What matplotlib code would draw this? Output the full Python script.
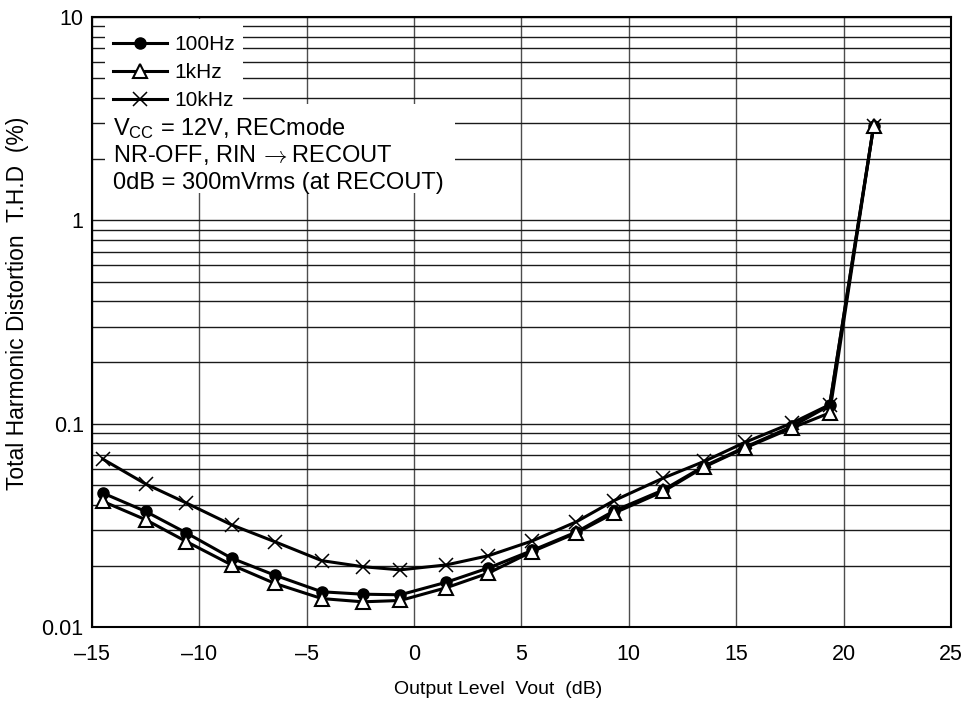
import numpy as np
import matplotlib
matplotlib.use("Agg")
import matplotlib.pyplot as plt
from matplotlib.patches import Rectangle
from matplotlib.ticker import FixedLocator, NullFormatter, LogLocator

plt.rcParams['font.family'] = ['Liberation Sans', 'DejaVu Sans']
plt.rcParams['mathtext.fontset'] = 'custom'
plt.rcParams['mathtext.rm'] = 'Liberation Sans'
plt.rcParams['mathtext.it'] = 'Liberation Sans'

# Output level (dB) of the measurement points
vout = [-14.5, -12.5, -10.6, -8.5, -6.5, -4.3, -2.4, -0.65, 1.5,
        3.45, 5.5, 7.55, 9.3, 11.6, 13.5, 15.4, 17.6, 19.35, 21.4]

# THD (%) per frequency
thd_100hz = [0.0456, 0.037, 0.029, 0.0218, 0.018, 0.0149, 0.0145, 0.0144, 0.0166,
             0.0195, 0.0238, 0.0293, 0.0372, 0.0472, 0.0618, 0.0765, 0.097, 0.123, 2.92]
thd_1khz = [0.0415, 0.0337, 0.0263, 0.0202, 0.0164, 0.0138, 0.0133, 0.0135, 0.0156,
            0.0184, 0.0235, 0.029, 0.0363, 0.0464, 0.0612, 0.0759, 0.0953, 0.113, 2.92]
thd_10khz = [0.067, 0.0505, 0.0407, 0.0318, 0.0263, 0.0212, 0.0198, 0.0191, 0.0202,
             0.0224, 0.0265, 0.0329, 0.0418, 0.054, 0.0652, 0.0809, 0.1008, 0.124, 2.92]

x_ticks = [-15, -10, -5, 0, 5, 10, 15, 20, 25]
x_ticklabels = ["\u201315", "\u201310", "\u20135", "0", "5", "10", "15", "20", "25"]
y_ticks = [0.01, 0.1, 1, 10]
y_ticklabels = ["0.01", "0.1", "1", "10"]

notes = ["V$_{\\rm CC}$ = 12V, RECmode",
         "NR-OFF, RIN$\\,\\rightarrow$RECOUT",
         "0dB = 300mVrms (at RECOUT)"]

fig = plt.figure(figsize=(9.7, 7.02), dpi=100)
ax = fig.add_axes([92 / 970, 75 / 702, 859 / 970, 610 / 702])

ax.set_yscale('log')
ax.set_xlim(-15, 25)
ax.set_ylim(0.01, 10)

# grid: every 5 dB, every 1-9 step per decade
ax.set_axisbelow(True)
ax.xaxis.set_major_locator(FixedLocator(x_ticks))
ax.yaxis.set_major_locator(FixedLocator(y_ticks))
ax.yaxis.set_minor_locator(LogLocator(base=10, subs=np.arange(2, 10)))
ax.yaxis.set_minor_formatter(NullFormatter())
ax.grid(True, which='major', axis='x', color='0.3', lw=1.0)
ax.grid(True, which='both', axis='y', color='0.1', lw=1.0)

ax.set_xticklabels(x_ticklabels)
ax.set_yticklabels(y_ticklabels)
ax.tick_params(axis='both', which='both', length=0, labelsize=15.5)
ax.tick_params(axis='x', pad=12)
ax.tick_params(axis='y', pad=6)
for s in ax.spines.values():
    s.set_linewidth(1.5)
    s.set_color('black')

# white areas behind legend and notes
ax.add_patch(Rectangle((0.015, 0.856), 0.161, 0.14, transform=ax.transAxes,
                       facecolor='white', edgecolor='none', zorder=1))
ax.add_patch(Rectangle((0.015, 0.711), 0.408, 0.146, transform=ax.transAxes,
                       facecolor='white', edgecolor='none', zorder=1))

ax.plot(vout, thd_10khz, color='black', lw=2.2, marker='x', ms=10, mew=1.1,
        label='10kHz', zorder=3)
ax.plot(vout, thd_100hz, color='black', lw=2.2, marker='o', ms=8,
        label='100Hz', zorder=4)
ax.plot(vout, thd_1khz, color='black', lw=2.2, marker='^', ms=9.5, mew=1.5,
        mfc='white', mec='black', label='1kHz', zorder=5)

handles, labels = ax.get_legend_handles_labels()
order = [1, 2, 0]
leg = ax.legend([handles[i] for i in order], [labels[i] for i in order],
                loc='upper left', bbox_to_anchor=(0.024, 0.9705), frameon=False,
                fontsize=15, handlelength=2.6, handletextpad=0.35,
                labelspacing=0.43, borderpad=0, borderaxespad=0)
leg.set_zorder(6)

for i, t in enumerate(notes):
    ax.text(0.0245, 0.807 - i * 0.0445, t, transform=ax.transAxes,
            fontsize=17, va='baseline', ha='left', zorder=6,
            math_fontfamily='cm' if i == 1 else None)

ax.set_xlabel("Output Level  Vout  (dB)", fontsize=14)
ax.xaxis.set_label_coords(0.473, -0.088)
ax.set_ylabel("Total Harmonic Distortion  T.H.D  (%)", fontsize=16.5)
ax.yaxis.set_label_coords(-0.073, 0.531)

fig.savefig("out.png", dpi=100)
